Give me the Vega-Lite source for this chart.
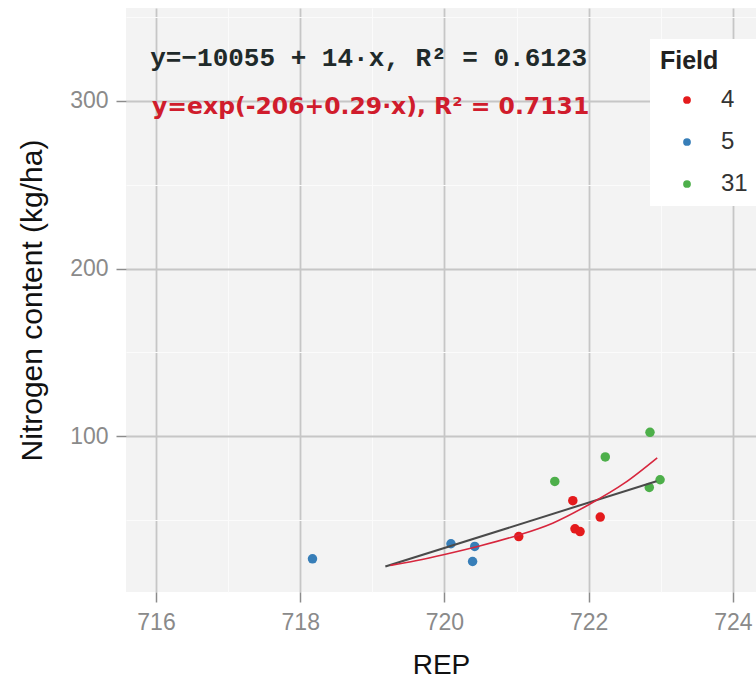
{
  "$schema": "https://vega.github.io/schema/vega-lite/v6.json",
  "width": 630,
  "height": 584,
  "autosize": {"type": "none"},
  "padding": {"left": 126, "top": 8, "right": 0, "bottom": 101},
  "background": "white",
  "config": {
    "view": {"fill": "#F3F3F3", "stroke": null},
    "font": "Liberation Sans"
  },
  "datasets": {
    "points": [
      {"Field": "4", "REP": 721.03, "N": 40.0},
      {"Field": "4", "REP": 721.78, "N": 61.4},
      {"Field": "4", "REP": 721.81, "N": 44.6},
      {"Field": "4", "REP": 721.88, "N": 43.0},
      {"Field": "4", "REP": 722.16, "N": 51.6},
      {"Field": "5", "REP": 718.17, "N": 26.7},
      {"Field": "5", "REP": 720.09, "N": 35.7},
      {"Field": "5", "REP": 720.42, "N": 34.1},
      {"Field": "5", "REP": 720.39, "N": 25.1},
      {"Field": "31", "REP": 721.53, "N": 72.9},
      {"Field": "31", "REP": 722.23, "N": 87.5},
      {"Field": "31", "REP": 722.85, "N": 102.2},
      {"Field": "31", "REP": 722.84, "N": 69.3},
      {"Field": "31", "REP": 722.99, "N": 73.9}
    ],
    "linfit": [
      {"REP": 719.18, "N": 22.1},
      {"REP": 722.94, "N": 73.0}
    ],
    "expfit": [
      {"REP": 719.25, "N": 22.8},
      {"REP": 719.6, "N": 25.6},
      {"REP": 720.0, "N": 29.3},
      {"REP": 720.5, "N": 34.5},
      {"REP": 721.0, "N": 40.5},
      {"REP": 721.5, "N": 48.0},
      {"REP": 722.0, "N": 59.0},
      {"REP": 722.5, "N": 72.0},
      {"REP": 722.95, "N": 87.0}
    ],
    "ann": [
      {"fit": "linear", "REP": 715.92, "N": 320.7, "label": "y=−10055 + 14·x,  R² = 0.6123"},
      {"fit": "exp", "REP": 715.945, "N": 292.0, "label": "y=exp(-206+0.29·x),  R² = 0.7131"}
    ]
  },
  "layer": [
    {
      "data": {"name": "points"},
      "mark": {"type": "circle", "size": 90, "opacity": 1},
      "encoding": {
        "x": {
          "field": "REP", "type": "quantitative",
          "scale": {"domain": [715.584, 724.32], "nice": false, "zero": false},
          "axis": {
            "title": "REP",
            "values": [716, 717, 718, 719, 720, 721, 722, 723, 724],
            "format": "d",
            "labelExpr": "datum.value % 2 == 0 ? datum.label : ''",
            "labelFont": "Liberation Sans", "labelFontSize": 23, "labelColor": "#8a8a8a",
            "labelPadding": 9,
            "tickSize": 10, "tickWidth": 1.5,
            "tickColor": {"condition": {"test": "datum.value % 2 != 0", "value": "transparent"}, "value": "#8c8c8c"},
            "domain": false,
            "grid": true,
            "gridColor": {"condition": {"test": "datum.value % 2 != 0", "value": "#FBFBFB"}, "value": "#C6C6C6"},
            "gridWidth": {"condition": {"test": "datum.value % 2 != 0", "value": 1}, "value": 1.8},
            "titleFont": "Liberation Sans", "titleFontSize": 28, "titleFontWeight": "normal", "titleColor": "#111111",
            "titlePadding": 17
          }
        },
        "y": {
          "field": "N", "type": "quantitative",
          "scale": {"domain": [6.9, 355.5], "nice": false, "zero": false},
          "axis": {
            "title": "Nitrogen content (kg/ha)",
            "values": [50, 100, 150, 200, 250, 300, 350],
            "format": "d",
            "labelExpr": "datum.value % 100 == 0 ? datum.label : ''",
            "labelFont": "Liberation Sans", "labelFontSize": 23, "labelColor": "#8a8a8a",
            "labelPadding": 8,
            "tickSize": 10, "tickWidth": 1.5,
            "tickColor": {"condition": {"test": "datum.value % 100 != 0", "value": "transparent"}, "value": "#8c8c8c"},
            "domain": false,
            "grid": true,
            "gridColor": {"condition": {"test": "datum.value % 100 != 0", "value": "#FBFBFB"}, "value": "#C6C6C6"},
            "gridWidth": {"condition": {"test": "datum.value % 100 != 0", "value": 1}, "value": 1.8},
            "titleFont": "Liberation Sans", "titleFontSize": 30, "titleFontWeight": "normal", "titleColor": "#111111",
            "titlePadding": 22
          }
        },
        "color": {
          "field": "Field", "type": "nominal",
          "scale": {"domain": ["4", "5", "31"], "range": ["#E41A1C", "#377EB8", "#4DAF4A"]},
          "legend": {
            "orient": "none", "legendX": 524, "legendY": 31,
            "title": "Field",
            "fillColor": "white", "padding": 10,
            "titleFont": "Liberation Sans", "titleFontSize": 25, "titleFontWeight": "bold", "titleColor": "#222222",
            "titlePadding": 14,
            "labelFont": "Liberation Sans", "labelFontSize": 24, "labelColor": "#333333",
            "symbolType": "circle", "symbolSize": 60, "symbolOffset": 15, "symbolStrokeWidth": 0, "symbolOpacity": 1,
            "labelOffset": 22, "rowPadding": 18
          }
        }
      }
    },
    {
      "data": {"name": "linfit"},
      "mark": {"type": "line", "color": "#4a4a4a", "strokeWidth": 2},
      "encoding": {
        "x": {"field": "REP", "type": "quantitative"},
        "y": {"field": "N", "type": "quantitative"}
      }
    },
    {
      "data": {"name": "expfit"},
      "mark": {"type": "line", "color": "#D7263D", "strokeWidth": 1.6, "interpolate": "monotone"},
      "encoding": {
        "x": {"field": "REP", "type": "quantitative"},
        "y": {"field": "N", "type": "quantitative"}
      }
    },
    {
      "data": {"name": "ann"},
      "transform": [{"filter": "datum.fit == 'linear'"}],
      "mark": {"type": "text", "align": "left", "baseline": "alphabetic", "font": "Liberation Mono", "fontWeight": "bold", "fontSize": 26, "color": "#1f2a2a"},
      "encoding": {
        "x": {"field": "REP", "type": "quantitative"},
        "y": {"field": "N", "type": "quantitative"},
        "text": {"field": "label"}
      }
    },
    {
      "data": {"name": "ann"},
      "transform": [{"filter": "datum.fit == 'exp'"}],
      "mark": {"type": "text", "align": "left", "baseline": "alphabetic", "font": "DejaVu Sans", "fontWeight": "bold", "fontSize": 23.5, "color": "#D01C2C"},
      "encoding": {
        "x": {"field": "REP", "type": "quantitative"},
        "y": {"field": "N", "type": "quantitative"},
        "text": {"field": "label"}
      }
    }
  ]
}
